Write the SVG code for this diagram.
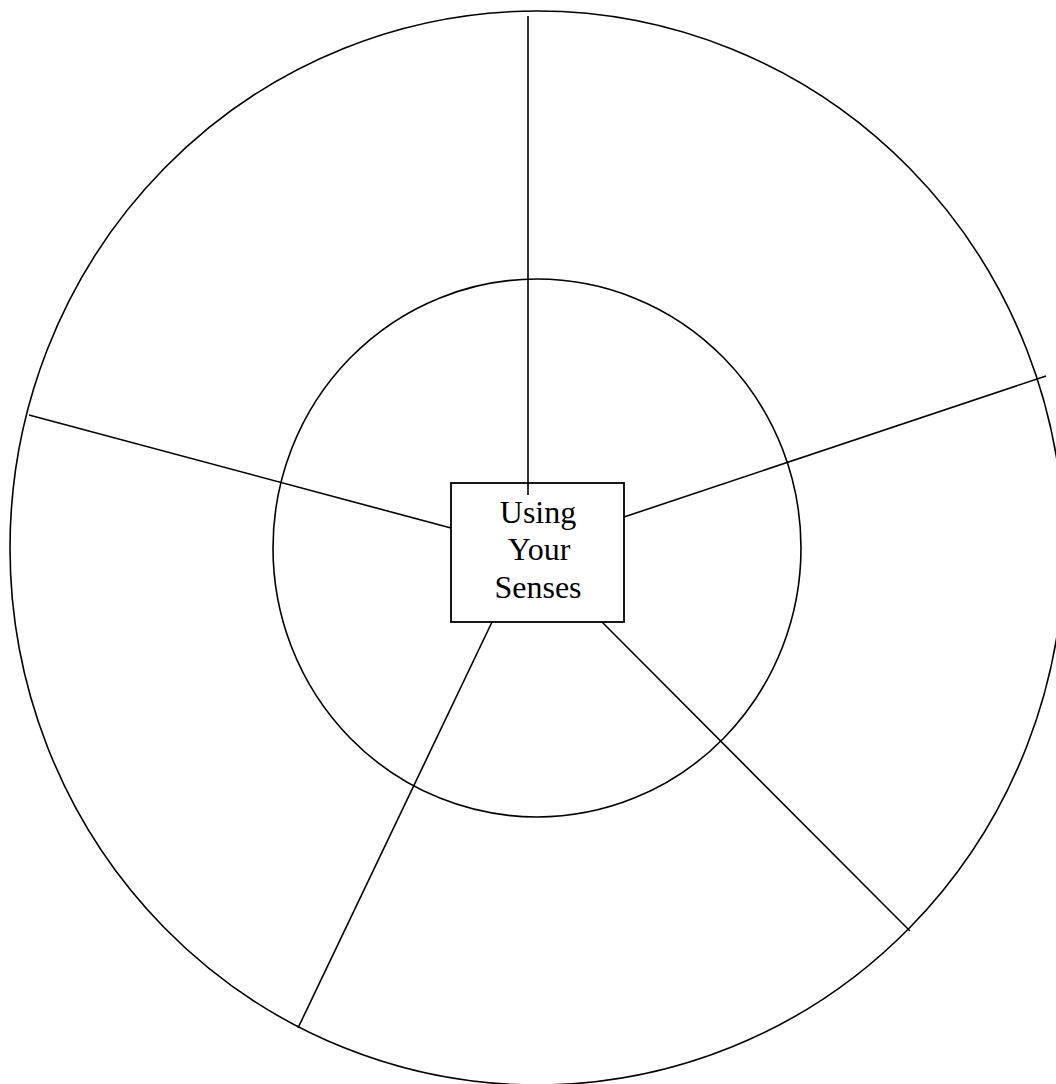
<svg xmlns="http://www.w3.org/2000/svg" width="1056" height="1084" viewBox="0 0 1056 1084">
<style>
.ln{stroke:#000;stroke-width:1.6;fill:none}
.lbl{font-family:"Liberation Serif","Times New Roman",serif;font-size:32px;fill:#000;text-anchor:middle}
</style>
<rect width="1056" height="1084" fill="#fff"/>
<g id="outer-ring"><ellipse class="ln" cx="537" cy="548" rx="527" ry="537"/></g>
<g id="inner-ring"><ellipse class="ln" cx="537" cy="548" rx="264" ry="269"/></g>
<g id="connectors">
<line class="ln" x1="528" y1="16" x2="528" y2="495"/>
<line class="ln" x1="624" y1="517" x2="1046" y2="376"/>
<line class="ln" x1="29" y1="415" x2="451" y2="528"/>
<line class="ln" x1="492" y1="622" x2="298" y2="1028"/>
<line class="ln" x1="602" y1="622" x2="910" y2="931"/>
</g>
<g id="center-node">
<rect x="451" y="483" width="173" height="139" fill="none" stroke="#000" stroke-width="1.8"/>
<text class="lbl" x="538" y="523">Using</text>
<text class="lbl" x="539" y="560">Your</text>
<text class="lbl" x="538" y="598">Senses</text>
</g>
</svg>
